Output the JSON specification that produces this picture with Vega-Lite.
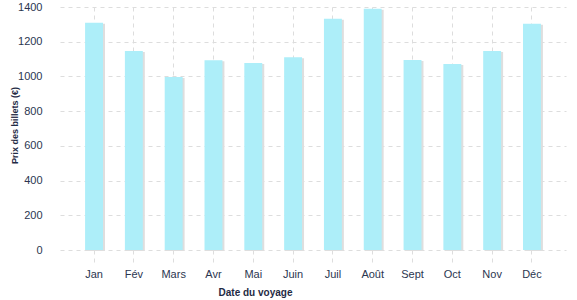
{
  "$schema": "https://vega.github.io/schema/vega-lite/v6.json",
  "width": 506,
  "height": 243,
  "autosize": {"type": "none"},
  "padding": {"left": 60, "top": 7, "right": 11, "bottom": 50},
  "background": "white",
  "config": {
    "view": {"stroke": null},
    "font": "Liberation Sans"
  },
  "data": {
    "values": [
      {"mois": "Jan", "prix": 1309},
      {"mois": "Fév", "prix": 1146},
      {"mois": "Mars", "prix": 996},
      {"mois": "Avr", "prix": 1093},
      {"mois": "Mai", "prix": 1077},
      {"mois": "Juin", "prix": 1111},
      {"mois": "Juil", "prix": 1333},
      {"mois": "Août", "prix": 1390},
      {"mois": "Sept", "prix": 1094},
      {"mois": "Oct", "prix": 1071},
      {"mois": "Nov", "prix": 1146},
      {"mois": "Déc", "prix": 1304}
    ]
  },
  "encoding": {
    "x": {
      "field": "mois",
      "type": "nominal",
      "sort": null,
      "scale": {"paddingInner": 0.55, "paddingOuter": 0.63},
      "axis": {
        "title": "Date du voyage",
        "titleFont": "Liberation Sans",
        "titleFontWeight": "bold",
        "titleFontSize": 10,
        "titleColor": "#1f2b45",
        "titleX": 195,
        "titleY": 37,
        "titleBaseline": "top",
        "titleAnchor": "middle",
        "titleAlign": "center",
        "labelAngle": 0,
        "labelFontSize": 11,
        "labelColor": "#2b3650",
        "labelPadding": 3,
        "domain": false,
        "ticks": true,
        "tickSize": 15,
        "tickColor": "#dddddd",
        "tickDash": [4, 4],
        "grid": true,
        "gridColor": "#dddddd",
        "gridDash": [4, 4]
      }
    },
    "y": {
      "field": "prix",
      "type": "quantitative",
      "scale": {"domain": [0, 1400], "nice": false},
      "axis": {
        "title": "Prix des billets (€)",
        "titleFont": "Liberation Sans",
        "titleFontWeight": "bold",
        "titleFontSize": 9,
        "titleColor": "#1f2b45",
        "titleX": -46,
        "titleY": 118,
        "titleAngle": -90,
        "titleAlign": "center",
        "titleBaseline": "middle",
        "values": [0, 200, 400, 600, 800, 1000, 1200, 1400],
        "format": "d",
        "labelFontSize": 11,
        "labelColor": "#2b3650",
        "labelPadding": 18,
        "domain": false,
        "ticks": false,
        "grid": true,
        "gridColor": "#dddddd",
        "gridDash": [4, 4]
      }
    }
  },
  "layer": [
    {"mark": {"type": "bar", "color": "#dedede", "xOffset": 2, "yOffset": 1}},
    {"mark": {"type": "bar", "color": "#adeef9"}}
  ]
}
